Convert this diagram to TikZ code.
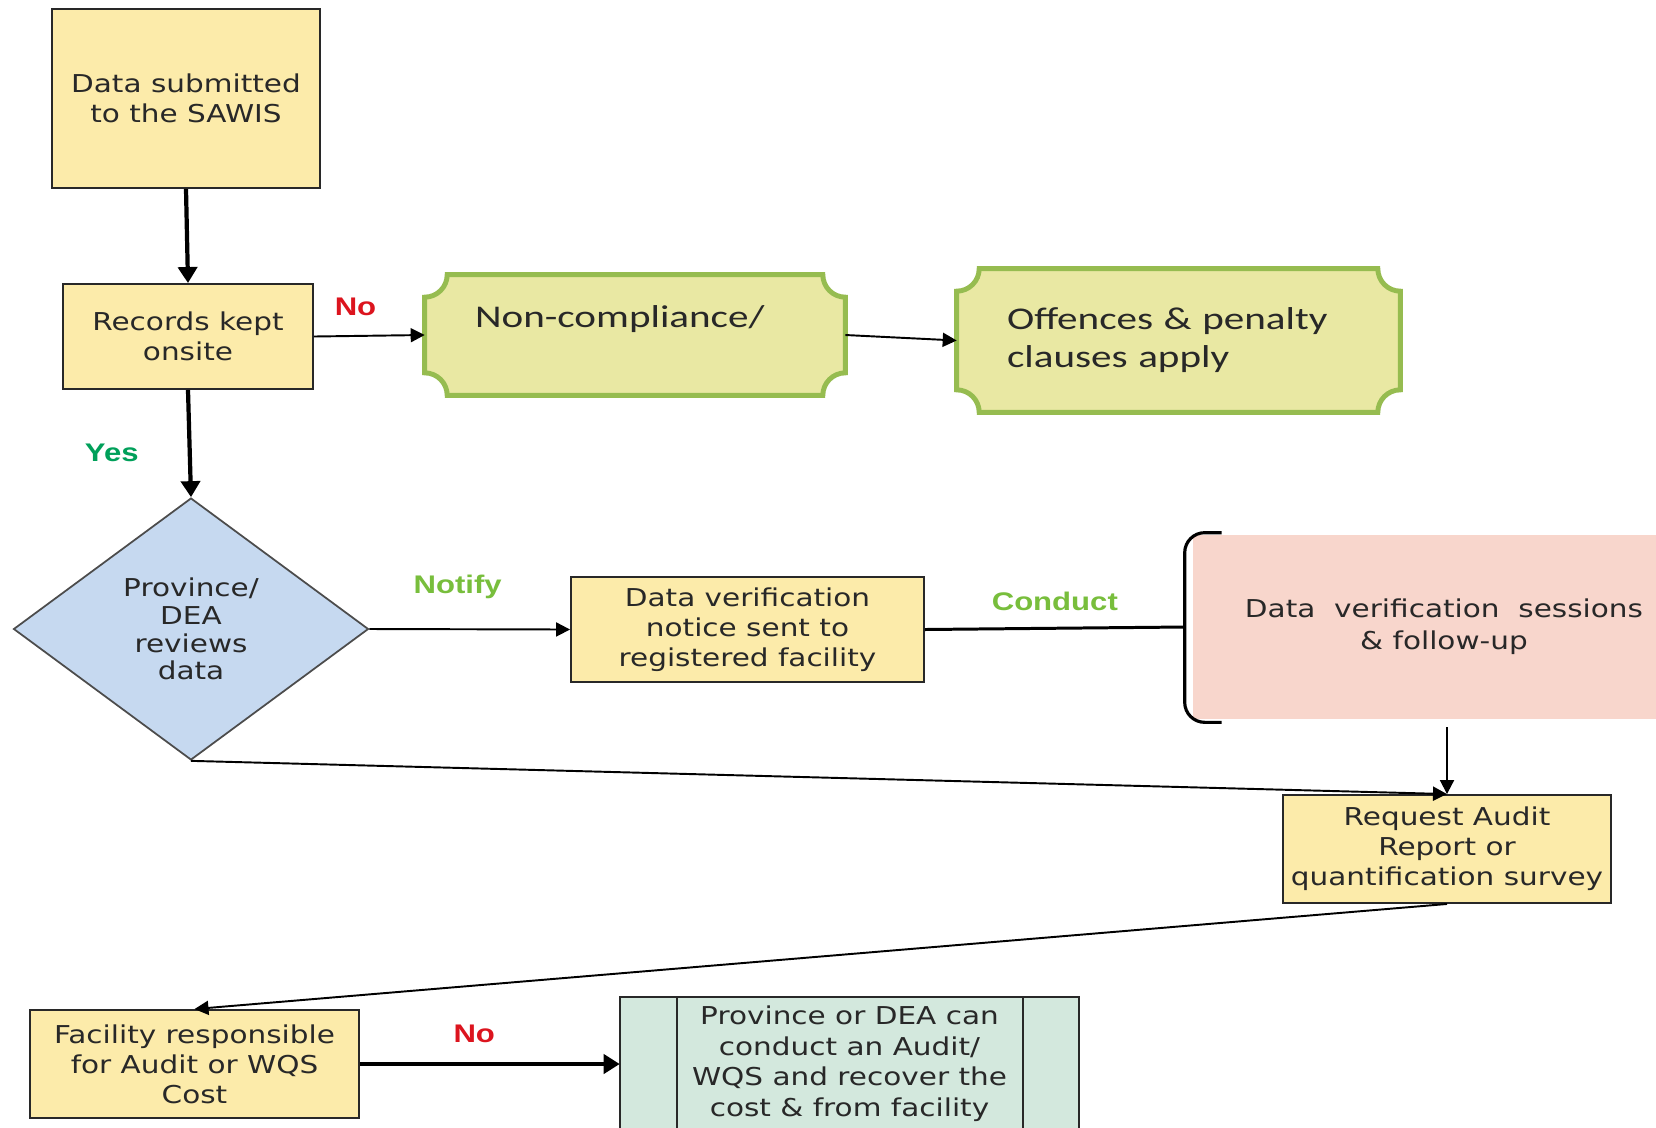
\documentclass[tikz,border=0pt]{standalone}
\usepackage{fontspec}
\usetikzlibrary{shapes.geometric,arrows.meta,backgrounds}

\newfontfamily\boxfont{DejaVu Sans}[FakeStretch=1.2]
\newfontfamily\plaquefont{Carlito}[FakeStretch=1.3]
\newfontfamily\lblfont{Liberation Sans}[FakeStretch=1.22]

\definecolor{boxyellow}{RGB}{252,235,170}
\definecolor{plaquefill}{RGB}{233,232,163}
\definecolor{plaquerim}{RGB}{150,188,80}
\definecolor{diamondblue}{RGB}{198,217,240}
\definecolor{sessionpink}{RGB}{248,214,204}
\definecolor{procgreen}{RGB}{211,232,221}
\definecolor{noRed}{RGB}{220,20,30}
\definecolor{yesGreen}{RGB}{0,160,90}
\definecolor{actGreen}{RGB}{120,190,60}
\definecolor{inkgray}{RGB}{40,40,40}

\newcommand{\plaquerad}{0.45cm}
\newcommand{\plaqueframe}[1]{%
  \draw[plaqueline] ([yshift=-\plaquerad]#1.north west)
    arc[start angle=-90, end angle=0, radius=\plaquerad]
    -- ([xshift=-\plaquerad]#1.north east)
    arc[start angle=180, end angle=270, radius=\plaquerad]
    -- ([yshift=\plaquerad]#1.south east)
    arc[start angle=90, end angle=180, radius=\plaquerad]
    -- ([xshift=\plaquerad]#1.south west)
    arc[start angle=0, end angle=90, radius=\plaquerad]
    -- cycle;}

\tikzset{
  stepbox/.style={rectangle, draw=inkgray, line width=1.1pt, fill=boxyellow, text=inkgray,
    align=center, inner sep=0pt, font=\boxfont\fontsize{14}{17}\selectfont},
  plaque/.style={rectangle, align=left, inner xsep=1cm, inner ysep=0pt, text=inkgray,
    font=\plaquefont\fontsize{18}{21.6}\selectfont},
  plaqueline/.style={fill=plaquefill, draw=plaquerim, line width=2.8pt},
  decision/.style={diamond, draw=gray!60!black, line width=1pt, fill=diamondblue, text=inkgray,
    align=center, inner sep=0pt, minimum width=7.1cm, minimum height=5.24cm,
    font=\boxfont\fontsize{14}{15.8}\selectfont},
  session/.style={rectangle, fill=sessionpink, text=inkgray, align=center,
    minimum width=10.04cm, minimum height=3.68cm, font=\boxfont\fontsize{14}{18}\selectfont},
  procbox/.style={rectangle, text=inkgray, align=center, inner xsep=0pt, inner ysep=5pt,
    minimum width=9.18cm, font=\boxfont\fontsize{14}{17.3}\selectfont},
  procline/.style={draw=inkgray, line width=1.1pt},
  braceline/.style={draw=black, line width=1.8pt, rounded corners=0.4cm},
  lbl/.style={inner sep=0pt, font=\lblfont\bfseries\fontsize{14.5}{17}\selectfont},
  heavyarrow/.style={draw=black, line width=2.4pt, -{Triangle[length=0.32cm,width=0.38cm]}},
  thinarrow/.style={draw=black, line width=1.1pt, -{Triangle[length=0.28cm,width=0.28cm]}},
  joinline/.style={draw=black, line width=1.7pt}
}

\begin{document}
\begin{tikzpicture}[x=0.02cm, y=-0.02cm]
\useasboundingbox (0,0) rectangle (1656,1127);

% boxes
\node[stepbox, minimum width=5.36cm, minimum height=3.58cm] (sub) at (186,98.5) {Data submitted\\to the SAWIS};
\node[stepbox, minimum width=5cm, minimum height=2.1cm] (rec) at (188,336.5) {Records kept\\onsite};
\node[plaque, text width=6.4cm, minimum height=2.4cm] (nonc) at (635,335) {Non-compliance/\\\mbox{}};
\node[plaque, text width=6.86cm, minimum height=2.86cm] (off) at (1178.5,340.5) {Offences \& penalty\\clauses apply};
\node[decision] (rev) at (191,629) {Province/\\DEA\\reviews\\data};
\node[stepbox, minimum width=7.06cm, minimum height=2.1cm] (note) at (747.5,629.5) {Data verification\\notice sent to\\registered facility};
\node[session] (sess) at (1444,627) {Data\ \ verification\ \ sessions\\\& follow-up};
\node[stepbox, minimum width=6.56cm, minimum height=2.16cm] (req) at (1447,849) {Request Audit\\Report or\\quantification survey};
\node[stepbox, minimum width=6.58cm, minimum height=2.16cm] (fac) at (194.5,1064) {Facility responsible\\for Audit or WQS\\Cost};
\node[procbox, anchor=north] (prov) at (849.5,997) {Province or DEA can\\conduct an Audit/\\WQS and recover the\\cost \& from facility};

% frames behind the text
\begin{scope}[on background layer]
  \fill[white] (0,0) rectangle (1656,1127);
  \plaqueframe{nonc}
  \plaqueframe{off}
  \fill[procgreen] (prov.north west) rectangle ([yshift=-1cm]prov.south east);
  \draw[procline] ([yshift=-1cm]prov.south west) -- (prov.north west) -- (prov.north east) -- ([yshift=-1cm]prov.south east);
  \draw[procline] ([xshift=1.14cm]prov.north west) -- ([xshift=1.14cm,yshift=-1cm]prov.south west);
  \draw[procline] ([xshift=-1.12cm]prov.north east) -- ([xshift=-1.12cm,yshift=-1cm]prov.south east);
\end{scope}
\draw[braceline] ([xshift=0.58cm,yshift=0.04cm]sess.north west) -- ([xshift=-0.16cm,yshift=0.04cm]sess.north west)
  -- ([xshift=-0.16cm,yshift=-0.06cm]sess.south west) -- ([xshift=0.58cm,yshift=-0.06cm]sess.south west);

% connectors
\coordinate (brace) at ([xshift=-0.16cm]sess.west);
\coordinate (sesslow) at ([yshift=-0.16cm]sess.south);
\draw[heavyarrow] (sub.south) -- (rec.north);
\draw[thinarrow] (rec.east) -- node[lbl, text=noRed, pos=0.375, yshift=0.58cm] {No} (nonc.west);
\draw[thinarrow] (nonc.east) -- (off.west);
\draw[heavyarrow] (rec.south) -- node[lbl, text=yesGreen, pos=0.59, xshift=-1.56cm] {Yes} (rev.north);
\draw[thinarrow] (rev.east) -- node[lbl, text=actGreen, pos=0.44, yshift=0.84cm] {Notify} (note.west);
\draw[joinline] (note.east) -- node[lbl, text=actGreen, pos=0.5, yshift=0.54cm] {Conduct} (brace);
\draw[thinarrow] (sesslow -| req.north) -- (req.north);
\draw[thinarrow] (rev.south) -- (req.north);
\draw[thinarrow] (req.south) -- (fac.north);
\draw[heavyarrow] (fac.east) -- node[lbl, text=noRed, pos=0.44, yshift=0.6cm] {No} (fac.east -| prov.west);
\end{tikzpicture}
\end{document}
